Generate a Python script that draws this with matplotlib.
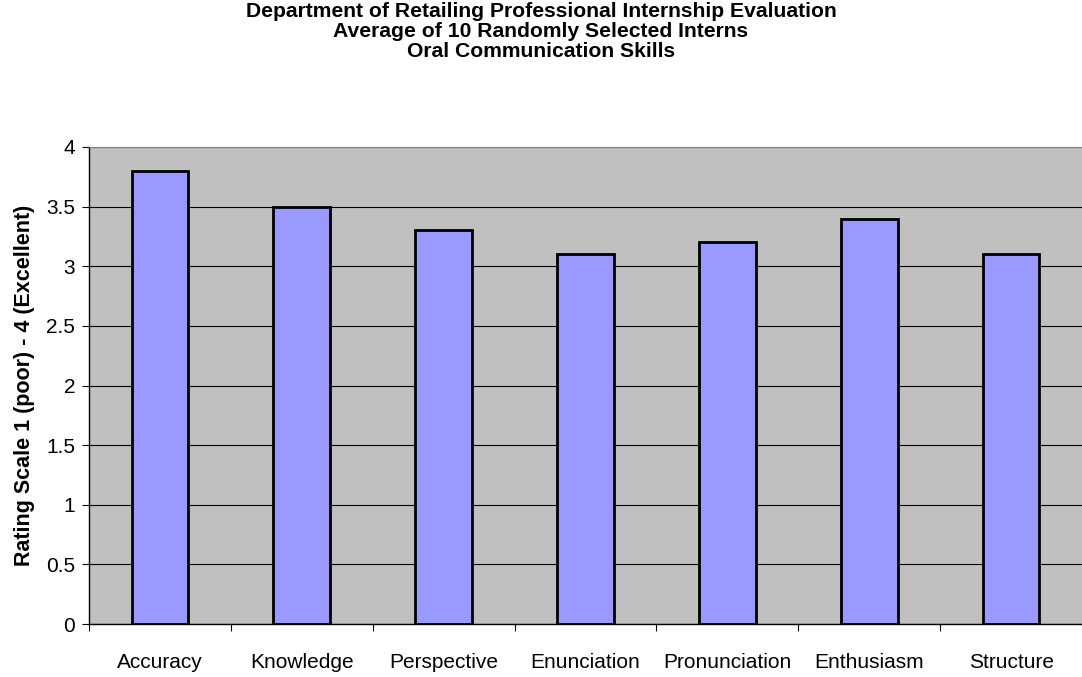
import numpy as np
import matplotlib.pyplot as plt

plt.rcParams['font.family'] = ['Liberation Sans', 'DejaVu Sans']

# Дані
categories = ["Accuracy", "Knowledge", "Perspective", "Enunciation",
              "Pronunciation", "Enthusiasm", "Structure"]
ratings = [3.8, 3.5, 3.3, 3.1, 3.2, 3.4, 3.1]
title_lines = ["Department of Retailing Professional Internship Evaluation",
               "Average of 10 Randomly Selected Interns",
               "Oral Communication Skills"]

fig = plt.figure(figsize=(10.82, 6.77), dpi=100)
ax = fig.add_axes([89 / 1082, 53 / 677, 1 - 89 / 1082, 477 / 677])
ax.set_facecolor("#C0C0C0")

x = np.arange(len(categories))
ax.bar(x, ratings, width=0.4, color="#9999FF", edgecolor="black", linewidth=2, zorder=3)

# Сітка
ax.set_yticks(np.arange(0, 4.01, 0.5))
ax.set_yticklabels(["0", "0.5", "1", "1.5", "2", "2.5", "3", "3.5", "4"], fontsize=15)
ax.yaxis.grid(True, color="black", linewidth=0.8, zorder=1)
ax.set_axisbelow(True)
ax.set_ylim(0, 4)
ax.set_xlim(-0.5, len(categories) - 0.5)

# Підписи категорій без засічок, засічки на межах
ax.set_xticks(x)
ax.set_xticklabels(categories, fontsize=15)
ax.tick_params(axis="x", length=0, pad=21)
ax.set_xticks(np.arange(-0.5, len(categories)), minor=True)
ax.tick_params(axis="x", which="minor", length=5, width=0.8, direction="out")
ax.tick_params(axis="y", length=5, width=0.8, direction="out", pad=5)

for s in ["left", "bottom"]:
    ax.spines[s].set_color("black")
    ax.spines[s].set_linewidth(1)
ax.spines["top"].set_color("#808080")
ax.spines["right"].set_visible(False)

ax.set_ylabel("Rating Scale 1 (poor) - 4 (Excellent)", fontsize=15.5, fontweight="bold", labelpad=8)

for i, line in enumerate(title_lines):
    fig.text(0.5, 1 - (17 + 20 * i) / 677, line, ha="center", va="baseline",
             fontsize=15.2, fontweight="bold")

fig.savefig("out.png", dpi=100)
